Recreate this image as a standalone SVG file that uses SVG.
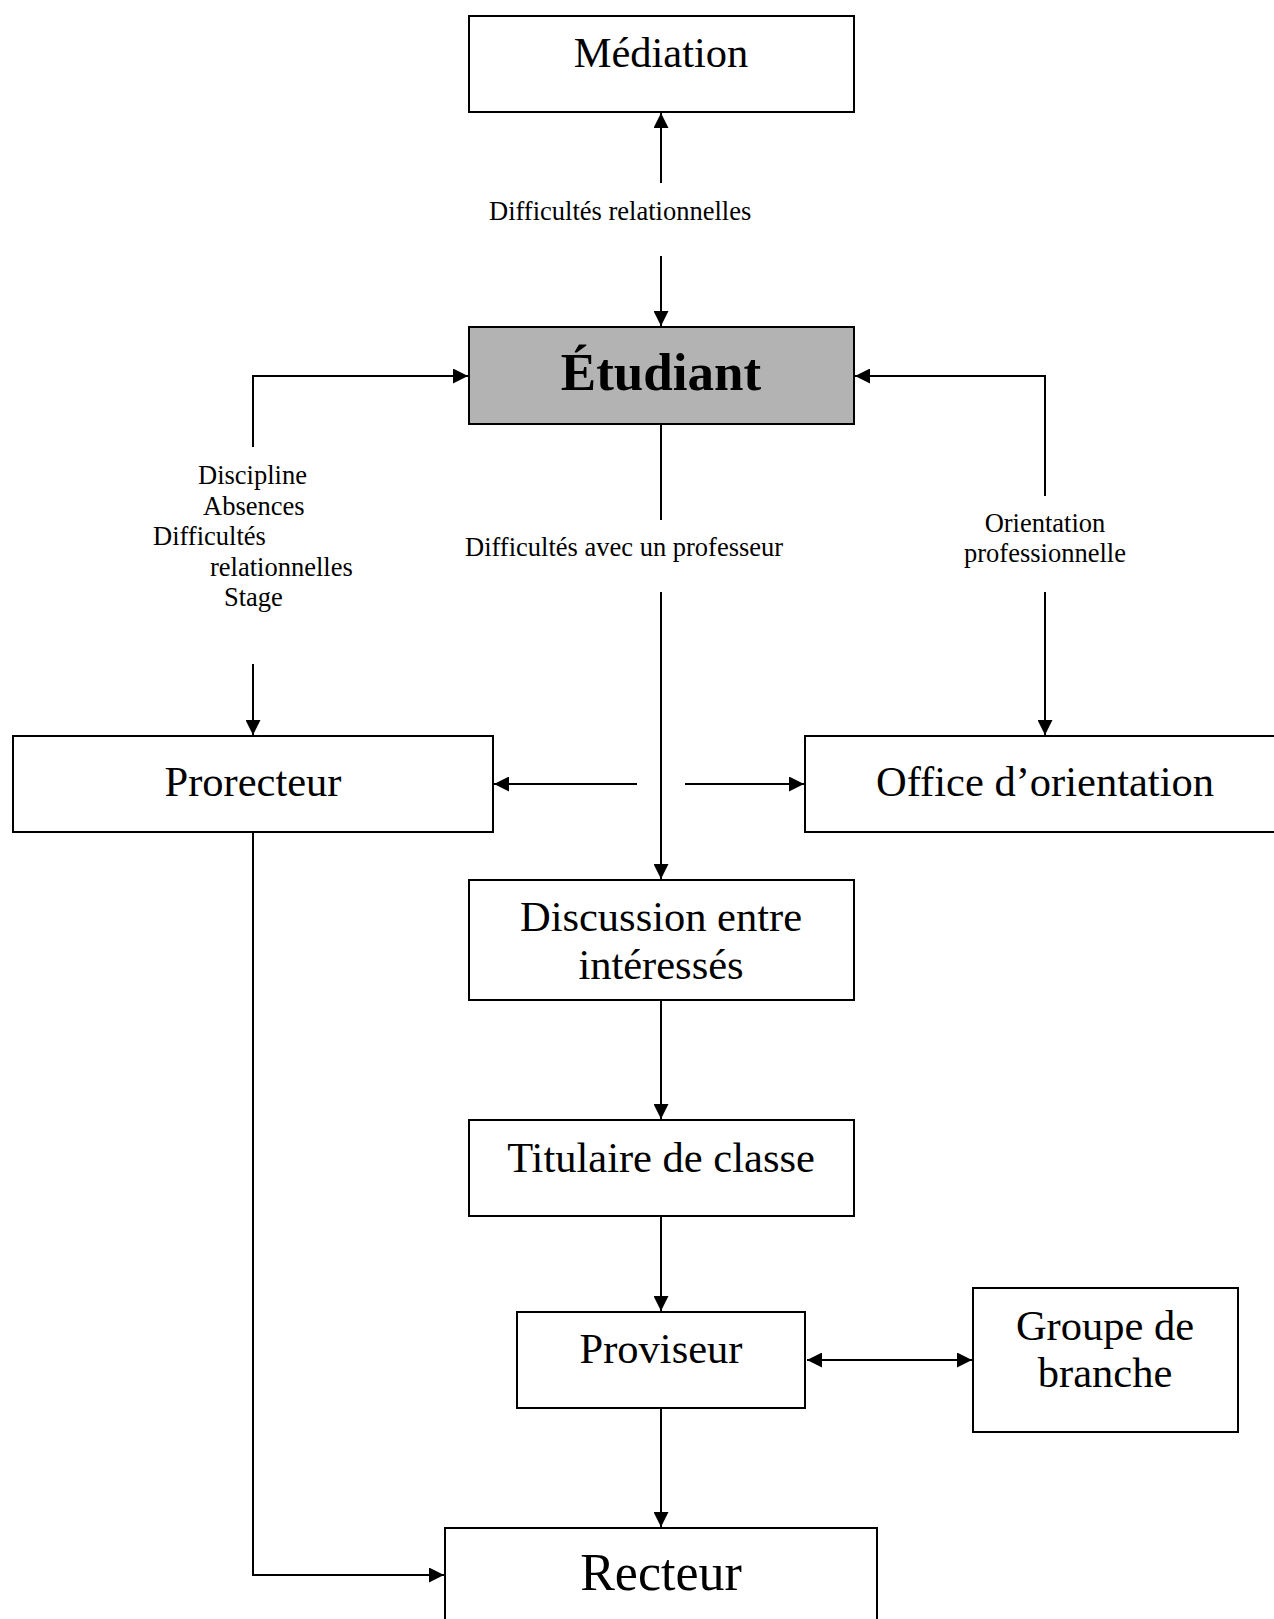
<svg xmlns="http://www.w3.org/2000/svg" width="1274" height="1619" viewBox="0 0 1274 1619">
<style>
.box{fill:#fff;stroke:#000;stroke-width:2}
.gray{fill:#b3b3b3}
.t{font-family:"Liberation Serif","Times New Roman",serif;font-size:42.5px;fill:#000;text-anchor:middle}
.big{font-size:53px;font-weight:bold}
.rect{font-size:52px}
.lbl{font-family:"Liberation Serif","Times New Roman",serif;font-size:26.5px;fill:#000}
.mid{text-anchor:middle}
.c{fill:none;stroke:#000;stroke-width:2}
</style>
<defs>
<marker id="ah" viewBox="0 0 15 15" refX="15" refY="7.5" markerWidth="15" markerHeight="15" markerUnits="userSpaceOnUse" orient="auto-start-reverse">
<path d="M0,0 L15,7.5 L0,15 Z" fill="#000"/>
</marker>
</defs>
<rect width="1274" height="1619" fill="#fff"/>
<g id="connectors">
<path class="c" d="M661,183 V113" marker-end="url(#ah)"/>
<path class="c" d="M661,256 V326" marker-end="url(#ah)"/>
<text class="lbl" x="489" y="219.5">Difficultés relationnelles</text>
<path class="c" d="M253,447 V376 H468" marker-end="url(#ah)"/>
<path class="c" d="M253,664 V735" marker-end="url(#ah)"/>
<text class="lbl" x="198" y="484">Discipline</text>
<text class="lbl" x="203" y="514.5">Absences</text>
<text class="lbl" x="153" y="545">Difficultés</text>
<text class="lbl" x="210" y="575.5">relationnelles</text>
<text class="lbl" x="224" y="606">Stage</text>
<path class="c" d="M1045,496 V376 H855" marker-end="url(#ah)"/>
<path class="c" d="M1045,592 V735" marker-end="url(#ah)"/>
<text class="lbl mid" x="1045" y="532">Orientation</text>
<text class="lbl mid" x="1045" y="562">professionnelle</text>
<path class="c" d="M661,424 V520"/>
<path class="c" d="M661,592 V879" marker-end="url(#ah)"/>
<text class="lbl" x="465" y="556">Difficultés avec un professeur</text>
<path class="c" d="M637,784 H494" marker-end="url(#ah)"/>
<path class="c" d="M685,784 H804" marker-end="url(#ah)"/>
<path class="c" d="M661,1000 V1119" marker-end="url(#ah)"/>
<path class="c" d="M661,1216 V1311" marker-end="url(#ah)"/>
<path class="c" d="M807,1360 H972" marker-start="url(#ah)" marker-end="url(#ah)"/>
<path class="c" d="M661,1408 V1527" marker-end="url(#ah)"/>
<path class="c" d="M253,832 V1575 H444" marker-end="url(#ah)"/>
</g>
<g id="mediation">
<rect class="box" x="469" y="16" width="385" height="96"/>
<text class="t" x="661" y="67">Médiation</text>
</g>
<g id="etudiant">
<rect class="box gray" x="469" y="327" width="385" height="97"/>
<text class="t big" x="661" y="390">Étudiant</text>
</g>
<g id="prorecteur">
<rect class="box" x="13" y="736" width="480" height="96"/>
<text class="t" x="253" y="796">Prorecteur</text>
</g>
<g id="office">
<rect class="box" x="805" y="736" width="470" height="96"/>
<text class="t" x="1045" y="796">Office d’orientation</text>
</g>
<g id="discussion">
<rect class="box" x="469" y="880" width="385" height="120"/>
<text class="t" x="661" y="931">Discussion entre</text>
<text class="t" x="661" y="979">intéressés</text>
</g>
<g id="titulaire">
<rect class="box" x="469" y="1120" width="385" height="96"/>
<text class="t" x="661" y="1172">Titulaire de classe</text>
</g>
<g id="proviseur">
<rect class="box" x="517" y="1312" width="288" height="96"/>
<text class="t" x="661" y="1363">Proviseur</text>
</g>
<g id="groupe">
<rect class="box" x="973" y="1288" width="265" height="144"/>
<text class="t" x="1105" y="1340">Groupe de</text>
<text class="t" x="1105" y="1387">branche</text>
</g>
<g id="recteur">
<rect class="box" x="445" y="1528" width="432" height="100"/>
<text class="t rect" x="661" y="1590">Recteur</text>
</g>
</svg>
